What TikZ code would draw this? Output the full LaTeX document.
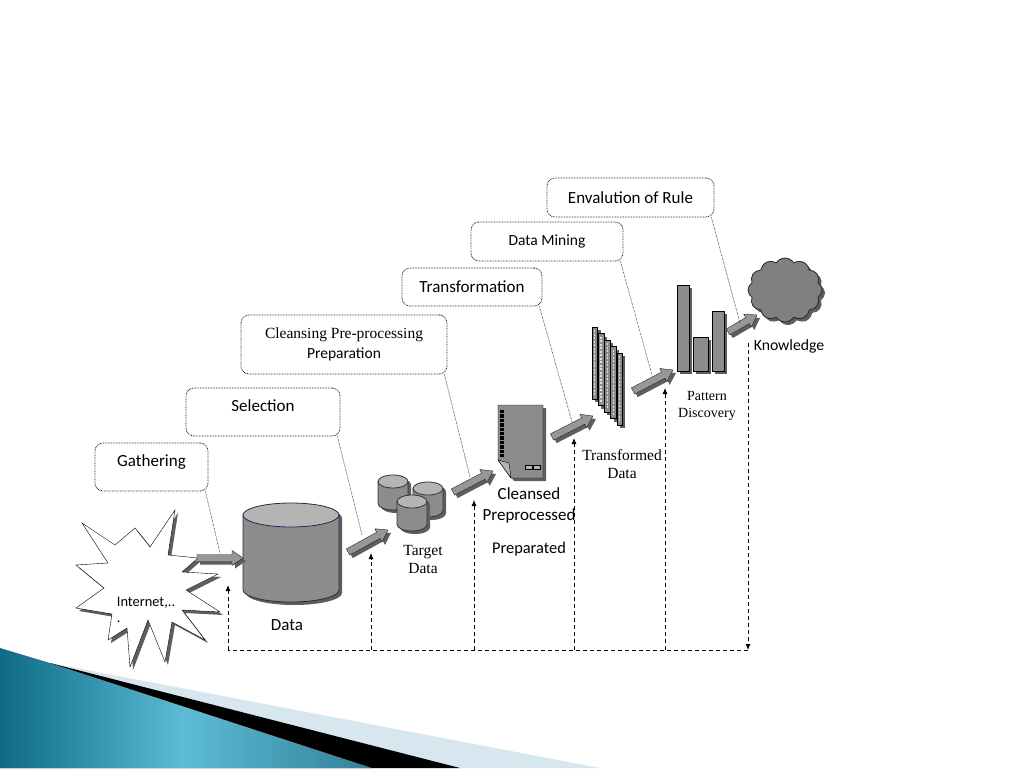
\documentclass[tikz,border=0pt]{standalone}
\usepackage{fontspec}
\setmainfont{Liberation Serif}
\newfontfamily\calibri{Carlito}
\usetikzlibrary{positioning,calc,shapes.symbols,shadows,arrows.meta}
\definecolor{bodygray}{HTML}{8C8C8C}
\definecolor{topgray}{HTML}{B4B4B4}
\definecolor{cylline}{HTML}{1F2D4A}
\definecolor{shadowgray}{HTML}{5E5E5E}
\definecolor{tealdark}{HTML}{0E6A85}
\definecolor{teallight}{HTML}{5DBCD7}
\definecolor{paleblue}{HTML}{D6E7F0}
\tikzset{
    >={Latex[length=6pt,width=5pt]},
    shade3d/.style = {drop shadow = {shadow xshift=3pt, shadow yshift=-3pt, fill=shadowgray, opacity=1}},
    stepnote/.style = {draw=black!85, line width=0.8pt, dash pattern=on 0.8pt off 0.8pt,
        rounded corners=8pt, inner sep=0pt, font=\calibri\fontsize{17}{20}\selectfont, align=center},
    leader/.style = {draw=black!85, line width=0.6pt, dash pattern=on 0.6pt off 0.8pt},
    feedback/.style = {draw, thick, dash pattern=on 4pt off 3pt},
    bigarrow/.style = {draw=black!85, fill=bodygray!90!white, line join=round, shade3d},
    bar/.style = {draw=black, fill=bodygray, shade3d},
    sanslabel/.style = {font=\calibri\fontsize{17}{21}\selectfont, align=center},
    seriflabel/.style = {font=\fontsize{15.5}{18}\selectfont, align=center},
}
% cylinder: name, centre x, top ellipse y, x radius, y radius, height
\newcommand\dbdrum[7][cylline]{%
    \fill[shadowgray] (#3-#5+3,#4+3) -- ++(0,#7) arc[start angle=180, end angle=0, x radius=#5, y radius=#6]
        -- ++(0,-#7) arc[start angle=0, end angle=-180, x radius=#5, y radius=#6] -- cycle;
    \draw[#1, thick, fill=bodygray] (#3-#5,#4) -- ++(0,#7) arc[start angle=180, end angle=0, x radius=#5, y radius=#6]
        -- ++(0,-#7) -- cycle;
    \draw[#1, thick, fill=topgray] (#3,#4) ellipse [x radius=#5, y radius=#6];
    \coordinate (#2) at (#3,#4+#7/2);}
% block arrow from one named point to another
\newcommand\blockarrow[2]{%
    \path[bigarrow] let \p1 = ($(#2)-(#1)$), \n1 = {veclen(\x1,\y1)}, \n2 = {atan2(\y1,\x1)} in
        ($(#1)+(\n2+90:3.5pt)$) -- ($(#1)+(\n2:\n1-11pt)+(\n2+90:3.5pt)$)
        -- ($(#1)+(\n2:\n1-11pt)+(\n2+90:7.5pt)$) -- (#2)
        -- ($(#1)+(\n2:\n1-11pt)+(\n2-90:7.5pt)$) -- ($(#1)+(\n2:\n1-11pt)+(\n2-90:3.5pt)$)
        -- ($(#1)+(\n2-90:3.5pt)$) -- cycle;}

\begin{document}
\begin{tikzpicture}[x=1pt, y=-1pt]
\useasboundingbox (0,0) rectangle (1024,768);

% corner decoration
\fill[paleblue] (50,663) -- (600,768) -- (0,768) -- cycle;
\fill[black] (50,663) -- (460,768) -- (0,768) -- cycle;
\shade[left color=tealdark, right color=tealdark!85, middle color=teallight]
    (0,648) -- (50,663) -- (372,768) -- (0,768) -- cycle;

% step notes
\node (gathnote) [stepnote, minimum width=113pt, minimum height=48pt, text depth=12pt] at (151.5,467) {Gathering};
\node (selnote) [stepnote, minimum width=154pt, minimum height=48pt, text depth=12pt] at (263,412) {Selection};
\node (cleannote) [stepnote, minimum width=206pt, minimum height=59pt] at (344,344.5)
    {{\rmfamily\fontsize{15.5}{18}\selectfont Cleansing Pre-processing}\\{\fontsize{15.5}{18}\selectfont Preparation}};
\node (transnote) [stepnote, minimum width=140pt, minimum height=38pt] at (472,287) {Transformation};
\node (minenote) [stepnote, minimum width=152pt, minimum height=39pt, font=\calibri\fontsize{15.5}{18}\selectfont] at (547,241.5) {Data Mining};
\node (rulenote) [stepnote, minimum width=167pt, minimum height=39pt] at (630.5,197.5) {Envalution of Rule};

% source
\path[draw=black, fill=white, shade3d] (82,523) -- (115,545) -- (135,528) -- (150,547) -- (175,510)
    -- (168,555) -- (198,558) -- (182,572) -- (218,574) -- (186,590) -- (220,612) -- (182,610)
    -- (205,640) -- (172,622) -- (165,662) -- (148,620) -- (130,667) -- (127,628) -- (108,640)
    -- (112,614) -- (76,608) -- (104,588) -- (76,565) -- (108,563) -- cycle;
\node (inet) [font=\calibri\fontsize{14.4}{16}\selectfont, align=left] at (146,610) {Internet,..\\.};

% data store
\dbdrum{data}{291}{515}{48}{12}{75}
\node (datalbl) [sanslabel] at (287,625) {Data};

% target data
\dbdrum[black!80]{tcylA}{393}{481.5}{15}{6.5}{22}
\dbdrum[black!80]{tcylB}{428}{488.5}{15}{6.5}{22}
\dbdrum[black!80]{tcylC}{412}{501.5}{15}{6.5}{23}
\node (targetlbl) [seriflabel] at (423,559) {Target\\Data};

% cleansed document
\path[draw=black, fill=bodygray, shade3d] (498,405) -- (543,405) -- (543,478) -- (511,478) -- (498,460) -- cycle;
\draw[fill=topgray] (498,460) -- (509,463) -- (511,478) -- cycle;
\foreach \k in {0,...,10}
    \fill (500,410+4.4*\k) rectangle +(4,3.3);
\draw[fill=topgray] (525,465) rectangle (532,469);
\draw[fill=topgray] (533,465) rectangle (540,469);
\node (cleanlbl) [sanslabel] at (529,505.5) {Cleansed\\Preprocessed};
\node (preplbl) [sanslabel, font=\calibri\fontsize{16.4}{18}\selectfont] at (529,549) {Preparated};

% transformed data
\foreach \i in {0,...,4} {
    \path[bar] (592+6.2*\i,327+6.5*\i) rectangle +(5.5,72);
    \draw[white!75!gray, line width=1.3pt, dash pattern=on 2pt off 1.5pt]
        (594.75+6.2*\i,330+6.5*\i) -- +(0,66);
}
\node (translbl) [seriflabel] at (622,464) {Transformed\\Data};

% patterns
\path[bar] (677,285) rectangle (689,371);
\path[bar] (693,337) rectangle (708,371);
\path[bar] (712,311) rectangle (724,371);
\node (patternlbl) [seriflabel, font=\fontsize{14}{17}\selectfont] at (707,405.5) {Pattern\\Discovery};

% knowledge
\node (knowledge) [cloud, cloud puffs=12, cloud puff arc=115, aspect=1.15, draw=black!85, thick,
    fill=black!50, minimum width=74pt, minimum height=64pt, shade3d] at (785,290) {};
\node (knowlbl) [sanslabel, font=\calibri\fontsize{15.7}{18}\selectfont] at (789,346) {Knowledge};

% block arrows
\coordinate (a1s) at (197,558);  \coordinate (a1e) at (243,558);
\coordinate (a2s) at (348,552);  \coordinate (a2e) at (388,530);
\coordinate (a3s) at (453,492);  \coordinate (a3e) at (493,471);
\coordinate (a4s) at (552,437);  \coordinate (a4e) at (593,416);
\coordinate (a5s) at (633,391);  \coordinate (a5e) at (673,370);
\coordinate (a6s) at (728,332);  \coordinate (a6e) at (757,315);
\foreach \i in {1,...,6} {
    \blockarrow{a\i s}{a\i e}
}

% leaders
\coordinate (l1) at (220,553);
\coordinate (l2) at (362,535);
\coordinate (l3) at (470,477);
\coordinate (l4) at (572,422);
\coordinate (l5) at (652,375);
\coordinate (l6) at (740,323);
\foreach \note [count=\i] in {gathnote,selnote,cleannote,transnote,minenote,rulenote}
    \draw[leader] ([xshift=-3pt]\note.south east) -- (l\i);

% feedback loop
\coordinate (fbtop) at (748,343);
\coordinate (fbcorner) at (748,650);
\coordinate (fbleft) at (228,650);
\draw[feedback, ->] (fbtop) -- (fbcorner);
\draw[feedback] (fbcorner) -- (fbleft);
\foreach \x/\y [count=\i] in {228/585, 371/553, 474/500, 574/438, 665/388} {
    \coordinate (fbb\i) at (\x,650);
    \coordinate (fbt\i) at (\x,\y);
    \draw[feedback, ->] (fbb\i) -- (fbt\i);
}
\end{tikzpicture}
\end{document}
